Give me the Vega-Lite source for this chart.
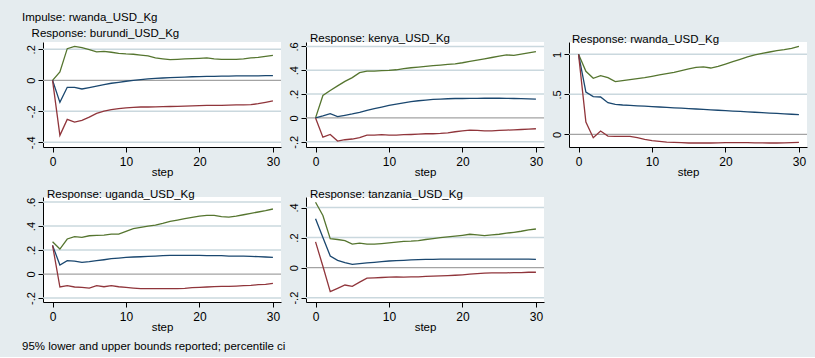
{
"$schema":"https://vega.github.io/schema/vega-lite/v6.json",
"background":"#e5ecef",
"padding":{"left":22,"top":12,"right":7,"bottom":5},
"title":{"text":"95% lower and upper bounds reported; percentile ci","orient":"bottom","anchor":"start","frame":"bounds","fontSize":11.5,"offset":8,"dx":0},
"datasets":{"g":[
{"p":"burundi","v":-0.4},{"p":"burundi","v":-0.2},{"p":"burundi","v":0},{"p":"burundi","v":0.2},
{"p":"kenya","v":-0.2},{"p":"kenya","v":0},{"p":"kenya","v":0.2},{"p":"kenya","v":0.4},{"p":"kenya","v":0.6},
{"p":"rwanda","v":0},{"p":"rwanda","v":0.5},{"p":"rwanda","v":1},
{"p":"uganda","v":-0.2},{"p":"uganda","v":0},{"p":"uganda","v":0.2},{"p":"uganda","v":0.4},{"p":"uganda","v":0.6},
{"p":"tanzania","v":-0.2},{"p":"tanzania","v":0},{"p":"tanzania","v":0.2},{"p":"tanzania","v":0.4}
],
"d":[
{"p":"burundi","s":0,"hi":0,"irf":0,"lo":0},
{"p":"burundi","s":1,"hi":0.054,"irf":-0.142,"lo":-0.355},
{"p":"burundi","s":2,"hi":0.204,"irf":-0.045,"lo":-0.252},
{"p":"burundi","s":3,"hi":0.219,"irf":-0.045,"lo":-0.269},
{"p":"burundi","s":4,"hi":0.211,"irf":-0.056,"lo":-0.258},
{"p":"burundi","s":5,"hi":0.198,"irf":-0.047,"lo":-0.237},
{"p":"burundi","s":6,"hi":0.183,"irf":-0.037,"lo":-0.213},
{"p":"burundi","s":7,"hi":0.187,"irf":-0.028,"lo":-0.198},
{"p":"burundi","s":8,"hi":0.181,"irf":-0.019,"lo":-0.189},
{"p":"burundi","s":9,"hi":0.174,"irf":-0.013,"lo":-0.183},
{"p":"burundi","s":10,"hi":0.170,"irf":-0.006,"lo":-0.178},
{"p":"burundi","s":11,"hi":0.168,"irf":0.000,"lo":-0.174},
{"p":"burundi","s":12,"hi":0.163,"irf":0.004,"lo":-0.172},
{"p":"burundi","s":13,"hi":0.157,"irf":0.009,"lo":-0.172},
{"p":"burundi","s":14,"hi":0.144,"irf":0.013,"lo":-0.171},
{"p":"burundi","s":15,"hi":0.138,"irf":0.015,"lo":-0.170},
{"p":"burundi","s":16,"hi":0.133,"irf":0.017,"lo":-0.169},
{"p":"burundi","s":17,"hi":0.135,"irf":0.019,"lo":-0.168},
{"p":"burundi","s":18,"hi":0.138,"irf":0.021,"lo":-0.166},
{"p":"burundi","s":19,"hi":0.140,"irf":0.023,"lo":-0.165},
{"p":"burundi","s":20,"hi":0.142,"irf":0.024,"lo":-0.163},
{"p":"burundi","s":21,"hi":0.144,"irf":0.025,"lo":-0.162},
{"p":"burundi","s":22,"hi":0.138,"irf":0.026,"lo":-0.162},
{"p":"burundi","s":23,"hi":0.135,"irf":0.027,"lo":-0.161},
{"p":"burundi","s":24,"hi":0.135,"irf":0.027,"lo":-0.160},
{"p":"burundi","s":25,"hi":0.135,"irf":0.028,"lo":-0.159},
{"p":"burundi","s":26,"hi":0.138,"irf":0.028,"lo":-0.158},
{"p":"burundi","s":27,"hi":0.144,"irf":0.029,"lo":-0.157},
{"p":"burundi","s":28,"hi":0.148,"irf":0.029,"lo":-0.151},
{"p":"burundi","s":29,"hi":0.155,"irf":0.030,"lo":-0.142},
{"p":"burundi","s":30,"hi":0.161,"irf":0.030,"lo":-0.133},
{"p":"kenya","s":0,"hi":0,"irf":0,"lo":0},
{"p":"kenya","s":1,"hi":0.188,"irf":0.017,"lo":-0.161},
{"p":"kenya","s":2,"hi":0.230,"irf":0.036,"lo":-0.139},
{"p":"kenya","s":3,"hi":0.269,"irf":0.011,"lo":-0.194},
{"p":"kenya","s":4,"hi":0.307,"irf":0.022,"lo":-0.183},
{"p":"kenya","s":5,"hi":0.338,"irf":0.033,"lo":-0.177},
{"p":"kenya","s":6,"hi":0.380,"irf":0.047,"lo":-0.166},
{"p":"kenya","s":7,"hi":0.393,"irf":0.064,"lo":-0.144},
{"p":"kenya","s":8,"hi":0.393,"irf":0.078,"lo":-0.144},
{"p":"kenya","s":9,"hi":0.396,"irf":0.091,"lo":-0.141},
{"p":"kenya","s":10,"hi":0.399,"irf":0.105,"lo":-0.144},
{"p":"kenya","s":11,"hi":0.404,"irf":0.116,"lo":-0.144},
{"p":"kenya","s":12,"hi":0.413,"irf":0.127,"lo":-0.141},
{"p":"kenya","s":13,"hi":0.421,"irf":0.136,"lo":-0.139},
{"p":"kenya","s":14,"hi":0.427,"irf":0.144,"lo":-0.136},
{"p":"kenya","s":15,"hi":0.432,"irf":0.150,"lo":-0.133},
{"p":"kenya","s":16,"hi":0.438,"irf":0.155,"lo":-0.133},
{"p":"kenya","s":17,"hi":0.443,"irf":0.158,"lo":-0.130},
{"p":"kenya","s":18,"hi":0.449,"irf":0.161,"lo":-0.125},
{"p":"kenya","s":19,"hi":0.454,"irf":0.163,"lo":-0.116},
{"p":"kenya","s":20,"hi":0.463,"irf":0.163,"lo":-0.108},
{"p":"kenya","s":21,"hi":0.474,"irf":0.164,"lo":-0.102},
{"p":"kenya","s":22,"hi":0.485,"irf":0.164,"lo":-0.105},
{"p":"kenya","s":23,"hi":0.496,"irf":0.165,"lo":-0.108},
{"p":"kenya","s":24,"hi":0.507,"irf":0.165,"lo":-0.108},
{"p":"kenya","s":25,"hi":0.518,"irf":0.165,"lo":-0.105},
{"p":"kenya","s":26,"hi":0.529,"irf":0.164,"lo":-0.102},
{"p":"kenya","s":27,"hi":0.524,"irf":0.163,"lo":-0.100},
{"p":"kenya","s":28,"hi":0.535,"irf":0.162,"lo":-0.097},
{"p":"kenya","s":29,"hi":0.546,"irf":0.160,"lo":-0.094},
{"p":"kenya","s":30,"hi":0.557,"irf":0.158,"lo":-0.091},
{"p":"rwanda","s":0,"hi":1.0,"irf":1.0,"lo":1.0},
{"p":"rwanda","s":1,"hi":0.788,"irf":0.529,"lo":0.154},
{"p":"rwanda","s":2,"hi":0.700,"irf":0.471,"lo":-0.042},
{"p":"rwanda","s":3,"hi":0.733,"irf":0.467,"lo":0.042},
{"p":"rwanda","s":4,"hi":0.708,"irf":0.396,"lo":-0.021},
{"p":"rwanda","s":5,"hi":0.658,"irf":0.375,"lo":-0.025},
{"p":"rwanda","s":6,"hi":0.671,"irf":0.367,"lo":-0.025},
{"p":"rwanda","s":7,"hi":0.683,"irf":0.362,"lo":-0.025},
{"p":"rwanda","s":8,"hi":0.696,"irf":0.357,"lo":-0.042},
{"p":"rwanda","s":9,"hi":0.708,"irf":0.352,"lo":-0.062},
{"p":"rwanda","s":10,"hi":0.725,"irf":0.347,"lo":-0.079},
{"p":"rwanda","s":11,"hi":0.742,"irf":0.342,"lo":-0.088},
{"p":"rwanda","s":12,"hi":0.758,"irf":0.337,"lo":-0.096},
{"p":"rwanda","s":13,"hi":0.775,"irf":0.332,"lo":-0.100},
{"p":"rwanda","s":14,"hi":0.796,"irf":0.327,"lo":-0.104},
{"p":"rwanda","s":15,"hi":0.817,"irf":0.322,"lo":-0.108},
{"p":"rwanda","s":16,"hi":0.838,"irf":0.317,"lo":-0.108},
{"p":"rwanda","s":17,"hi":0.842,"irf":0.312,"lo":-0.108},
{"p":"rwanda","s":18,"hi":0.829,"irf":0.307,"lo":-0.108},
{"p":"rwanda","s":19,"hi":0.850,"irf":0.301,"lo":-0.106},
{"p":"rwanda","s":20,"hi":0.879,"irf":0.296,"lo":-0.104},
{"p":"rwanda","s":21,"hi":0.908,"irf":0.291,"lo":-0.104},
{"p":"rwanda","s":22,"hi":0.938,"irf":0.286,"lo":-0.104},
{"p":"rwanda","s":23,"hi":0.967,"irf":0.281,"lo":-0.104},
{"p":"rwanda","s":24,"hi":0.992,"irf":0.276,"lo":-0.106},
{"p":"rwanda","s":25,"hi":1.013,"irf":0.271,"lo":-0.106},
{"p":"rwanda","s":26,"hi":1.029,"irf":0.266,"lo":-0.108},
{"p":"rwanda","s":27,"hi":1.046,"irf":0.261,"lo":-0.108},
{"p":"rwanda","s":28,"hi":1.058,"irf":0.256,"lo":-0.106},
{"p":"rwanda","s":29,"hi":1.075,"irf":0.251,"lo":-0.104},
{"p":"rwanda","s":30,"hi":1.100,"irf":0.246,"lo":-0.100},
{"p":"uganda","s":0,"hi":0.269,"irf":0.239,"lo":0.239},
{"p":"uganda","s":1,"hi":0.208,"irf":0.075,"lo":-0.108},
{"p":"uganda","s":2,"hi":0.292,"irf":0.111,"lo":-0.097},
{"p":"uganda","s":3,"hi":0.311,"irf":0.108,"lo":-0.108},
{"p":"uganda","s":4,"hi":0.306,"irf":0.097,"lo":-0.111},
{"p":"uganda","s":5,"hi":0.319,"irf":0.103,"lo":-0.117},
{"p":"uganda","s":6,"hi":0.322,"irf":0.111,"lo":-0.097},
{"p":"uganda","s":7,"hi":0.325,"irf":0.119,"lo":-0.106},
{"p":"uganda","s":8,"hi":0.333,"irf":0.128,"lo":-0.097},
{"p":"uganda","s":9,"hi":0.333,"irf":0.133,"lo":-0.106},
{"p":"uganda","s":10,"hi":0.356,"irf":0.139,"lo":-0.111},
{"p":"uganda","s":11,"hi":0.378,"irf":0.142,"lo":-0.117},
{"p":"uganda","s":12,"hi":0.389,"irf":0.144,"lo":-0.122},
{"p":"uganda","s":13,"hi":0.400,"irf":0.147,"lo":-0.122},
{"p":"uganda","s":14,"hi":0.408,"irf":0.150,"lo":-0.122},
{"p":"uganda","s":15,"hi":0.422,"irf":0.153,"lo":-0.122},
{"p":"uganda","s":16,"hi":0.439,"irf":0.156,"lo":-0.122},
{"p":"uganda","s":17,"hi":0.450,"irf":0.156,"lo":-0.122},
{"p":"uganda","s":18,"hi":0.461,"irf":0.156,"lo":-0.119},
{"p":"uganda","s":19,"hi":0.472,"irf":0.156,"lo":-0.114},
{"p":"uganda","s":20,"hi":0.483,"irf":0.156,"lo":-0.111},
{"p":"uganda","s":21,"hi":0.489,"irf":0.153,"lo":-0.108},
{"p":"uganda","s":22,"hi":0.489,"irf":0.153,"lo":-0.105},
{"p":"uganda","s":23,"hi":0.478,"irf":0.153,"lo":-0.103},
{"p":"uganda","s":24,"hi":0.475,"irf":0.150,"lo":-0.103},
{"p":"uganda","s":25,"hi":0.483,"irf":0.150,"lo":-0.100},
{"p":"uganda","s":26,"hi":0.494,"irf":0.149,"lo":-0.097},
{"p":"uganda","s":27,"hi":0.506,"irf":0.147,"lo":-0.094},
{"p":"uganda","s":28,"hi":0.517,"irf":0.145,"lo":-0.089},
{"p":"uganda","s":29,"hi":0.528,"irf":0.142,"lo":-0.086},
{"p":"uganda","s":30,"hi":0.542,"irf":0.139,"lo":-0.078},
{"p":"tanzania","s":0,"hi":0.435,"irf":0.325,"lo":0.171},
{"p":"tanzania","s":1,"hi":0.347,"irf":0.200,"lo":0.009},
{"p":"tanzania","s":2,"hi":0.193,"irf":0.077,"lo":-0.160},
{"p":"tanzania","s":3,"hi":0.187,"irf":0.048,"lo":-0.138},
{"p":"tanzania","s":4,"hi":0.180,"irf":0.033,"lo":-0.116},
{"p":"tanzania","s":5,"hi":0.156,"irf":0.022,"lo":-0.125},
{"p":"tanzania","s":6,"hi":0.163,"irf":0.026,"lo":-0.097},
{"p":"tanzania","s":7,"hi":0.156,"irf":0.031,"lo":-0.070},
{"p":"tanzania","s":8,"hi":0.156,"irf":0.035,"lo":-0.068},
{"p":"tanzania","s":9,"hi":0.160,"irf":0.040,"lo":-0.066},
{"p":"tanzania","s":10,"hi":0.165,"irf":0.044,"lo":-0.064},
{"p":"tanzania","s":11,"hi":0.169,"irf":0.046,"lo":-0.062},
{"p":"tanzania","s":12,"hi":0.174,"irf":0.048,"lo":-0.064},
{"p":"tanzania","s":13,"hi":0.176,"irf":0.051,"lo":-0.062},
{"p":"tanzania","s":14,"hi":0.180,"irf":0.053,"lo":-0.062},
{"p":"tanzania","s":15,"hi":0.187,"irf":0.055,"lo":-0.059},
{"p":"tanzania","s":16,"hi":0.193,"irf":0.055,"lo":-0.057},
{"p":"tanzania","s":17,"hi":0.200,"irf":0.057,"lo":-0.055},
{"p":"tanzania","s":18,"hi":0.204,"irf":0.057,"lo":-0.053},
{"p":"tanzania","s":19,"hi":0.209,"irf":0.057,"lo":-0.051},
{"p":"tanzania","s":20,"hi":0.215,"irf":0.057,"lo":-0.048},
{"p":"tanzania","s":21,"hi":0.222,"irf":0.057,"lo":-0.044},
{"p":"tanzania","s":22,"hi":0.218,"irf":0.057,"lo":-0.040},
{"p":"tanzania","s":23,"hi":0.213,"irf":0.057,"lo":-0.037},
{"p":"tanzania","s":24,"hi":0.218,"irf":0.057,"lo":-0.035},
{"p":"tanzania","s":25,"hi":0.222,"irf":0.057,"lo":-0.035},
{"p":"tanzania","s":26,"hi":0.229,"irf":0.057,"lo":-0.035},
{"p":"tanzania","s":27,"hi":0.235,"irf":0.057,"lo":-0.033},
{"p":"tanzania","s":28,"hi":0.242,"irf":0.057,"lo":-0.033},
{"p":"tanzania","s":29,"hi":0.251,"irf":0.056,"lo":-0.031},
{"p":"tanzania","s":30,"hi":0.257,"irf":0.055,"lo":-0.031}
]},
"columns":3,
"bounds":"flush",
"spacing":{"row":50,"column":25},
"concat":[
{"width":238,"height":105,
 "title":{"text":"Impulse: rwanda_USD_Kg","subtitle":"\u200b\u00a0\u00a0\u00a0Response: burundi_USD_Kg","dx":-21,"offset":3,"subtitleFontSize":11.5,"subtitleColor":"#000","subtitlePadding":4},
 "layer":[
  {"data":{"name":"g"},"transform":[{"filter":"datum.p==='burundi' && datum.v!==0"}],"mark":{"type":"rule","color":"#cad8de","strokeWidth":1.5},
   "encoding":{"y":{"field":"v","type":"quantitative","scale":{"domain":[-0.43,0.247],"nice":false,"zero":false},"axis":{"values":[-0.4,-0.2,0,0.2],"title":null,"grid":false,"labelOverlap":false}}}},
  {"data":{"name":"g"},"transform":[{"filter":"datum.p==='burundi' && datum.v===0"}],"mark":{"type":"rule","color":"#a3a3a3","strokeWidth":1.2},
   "encoding":{"y":{"field":"v","type":"quantitative","axis":{"values":[-0.4,-0.2,0,0.2],"title":null,"grid":false,"labelOverlap":false}}}},
  {"data":{"name":"d"},"transform":[{"filter":"datum.p==='burundi'"},{"fold":["hi","irf","lo"],"as":["series","v"]}],"mark":{"type":"line","strokeWidth":1.3},"encoding":{
   "x":{"field":"s","type":"quantitative","scale":{"domain":[-1.3,31.1],"nice":false,"zero":false},"axis":{"values":[0,10,20,30],"title":"step","grid":false}},
   "y":{"field":"v","type":"quantitative","axis":{"values":[-0.4,-0.2,0,0.2],"title":null,"grid":false,"labelOverlap":false}},
   "color":{"field":"series","type":"nominal","scale":{"domain":["hi","irf","lo"],"range":["#55752f","#1a476f","#90353b"]},"legend":null}}}
 ]},
{"width":238,"height":105,
 "title":{"text":"Response: kenya_USD_Kg","dx":4,"offset":-3},
 "layer":[
  {"data":{"name":"g"},"transform":[{"filter":"datum.p==='kenya' && datum.v!==0"}],"mark":{"type":"rule","color":"#cad8de","strokeWidth":1.5},
   "encoding":{"y":{"field":"v","type":"quantitative","scale":{"domain":[-0.244,0.637],"nice":false,"zero":false},"axis":{"values":[-0.2,0,0.2,0.4,0.6],"title":null,"grid":false,"labelOverlap":false}}}},
  {"data":{"name":"g"},"transform":[{"filter":"datum.p==='kenya' && datum.v===0"}],"mark":{"type":"rule","color":"#a3a3a3","strokeWidth":1.2},
   "encoding":{"y":{"field":"v","type":"quantitative","axis":{"values":[-0.2,0,0.2,0.4,0.6],"title":null,"grid":false,"labelOverlap":false}}}},
  {"data":{"name":"d"},"transform":[{"filter":"datum.p==='kenya'"},{"fold":["hi","irf","lo"],"as":["series","v"]}],"mark":{"type":"line","strokeWidth":1.3},"encoding":{
   "x":{"field":"s","type":"quantitative","scale":{"domain":[-1.3,31.1],"nice":false,"zero":false},"axis":{"values":[0,10,20,30],"title":"step","grid":false}},
   "y":{"field":"v","type":"quantitative","axis":{"values":[-0.2,0,0.2,0.4,0.6],"title":null,"grid":false,"labelOverlap":false}},
   "color":{"field":"series","type":"nominal","scale":{"domain":["hi","irf","lo"],"range":["#55752f","#1a476f","#90353b"]},"legend":null}}}
 ]},
{"width":238,"height":105,
 "title":{"text":"Response: rwanda_USD_Kg","dx":3,"offset":-3},
 "layer":[
  {"data":{"name":"g"},"transform":[{"filter":"datum.p==='rwanda' && datum.v!==0"}],"mark":{"type":"rule","color":"#cad8de","strokeWidth":1.5},
   "encoding":{"y":{"field":"v","type":"quantitative","scale":{"domain":[-0.158,1.154],"nice":false,"zero":false},"axis":{"values":[0,0.5,1],"title":null,"grid":false,"labelOverlap":false}}}},
  {"data":{"name":"g"},"transform":[{"filter":"datum.p==='rwanda' && datum.v===0"}],"mark":{"type":"rule","color":"#a3a3a3","strokeWidth":1.2},
   "encoding":{"y":{"field":"v","type":"quantitative","axis":{"values":[0,0.5,1],"title":null,"grid":false,"labelOverlap":false}}}},
  {"data":{"name":"d"},"transform":[{"filter":"datum.p==='rwanda'"},{"fold":["hi","irf","lo"],"as":["series","v"]}],"mark":{"type":"line","strokeWidth":1.3},"encoding":{
   "x":{"field":"s","type":"quantitative","scale":{"domain":[-1.3,31.1],"nice":false,"zero":false},"axis":{"values":[0,10,20,30],"title":"step","grid":false}},
   "y":{"field":"v","type":"quantitative","axis":{"values":[0,0.5,1],"title":null,"grid":false,"labelOverlap":false}},
   "color":{"field":"series","type":"nominal","scale":{"domain":["hi","irf","lo"],"range":["#55752f","#1a476f","#90353b"]},"legend":null}}}
 ]},
{"width":238,"height":105,
 "title":{"text":"Response: uganda_USD_Kg","dx":4,"offset":-3},
 "layer":[
  {"data":{"name":"g"},"transform":[{"filter":"datum.p==='uganda' && datum.v!==0"}],"mark":{"type":"rule","color":"#cad8de","strokeWidth":1.5},
   "encoding":{"y":{"field":"v","type":"quantitative","scale":{"domain":[-0.233,0.642],"nice":false,"zero":false},"axis":{"values":[-0.2,0,0.2,0.4,0.6],"title":null,"grid":false,"labelOverlap":false}}}},
  {"data":{"name":"g"},"transform":[{"filter":"datum.p==='uganda' && datum.v===0"}],"mark":{"type":"rule","color":"#a3a3a3","strokeWidth":1.2},
   "encoding":{"y":{"field":"v","type":"quantitative","axis":{"values":[-0.2,0,0.2,0.4,0.6],"title":null,"grid":false,"labelOverlap":false}}}},
  {"data":{"name":"d"},"transform":[{"filter":"datum.p==='uganda'"},{"fold":["hi","irf","lo"],"as":["series","v"]}],"mark":{"type":"line","strokeWidth":1.3},"encoding":{
   "x":{"field":"s","type":"quantitative","scale":{"domain":[-1.3,31.1],"nice":false,"zero":false},"axis":{"values":[0,10,20,30],"title":"step","grid":false}},
   "y":{"field":"v","type":"quantitative","axis":{"values":[-0.2,0,0.2,0.4,0.6],"title":null,"grid":false,"labelOverlap":false}},
   "color":{"field":"series","type":"nominal","scale":{"domain":["hi","irf","lo"],"range":["#55752f","#1a476f","#90353b"]},"legend":null}}}
 ]},
{"width":238,"height":105,
 "title":{"text":"Response: tanzania_USD_Kg","dx":4,"offset":-3},
 "layer":[
  {"data":{"name":"g"},"transform":[{"filter":"datum.p==='tanzania' && datum.v!==0"}],"mark":{"type":"rule","color":"#cad8de","strokeWidth":1.5},
   "encoding":{"y":{"field":"v","type":"quantitative","scale":{"domain":[-0.229,0.47],"nice":false,"zero":false},"axis":{"values":[-0.2,0,0.2,0.4],"title":null,"grid":false,"labelOverlap":false}}}},
  {"data":{"name":"g"},"transform":[{"filter":"datum.p==='tanzania' && datum.v===0"}],"mark":{"type":"rule","color":"#a3a3a3","strokeWidth":1.2},
   "encoding":{"y":{"field":"v","type":"quantitative","axis":{"values":[-0.2,0,0.2,0.4],"title":null,"grid":false,"labelOverlap":false}}}},
  {"data":{"name":"d"},"transform":[{"filter":"datum.p==='tanzania'"},{"fold":["hi","irf","lo"],"as":["series","v"]}],"mark":{"type":"line","strokeWidth":1.3},"encoding":{
   "x":{"field":"s","type":"quantitative","scale":{"domain":[-1.3,31.1],"nice":false,"zero":false},"axis":{"values":[0,10,20,30],"title":"step","grid":false}},
   "y":{"field":"v","type":"quantitative","axis":{"values":[-0.2,0,0.2,0.4],"title":null,"grid":false,"labelOverlap":false}},
   "color":{"field":"series","type":"nominal","scale":{"domain":["hi","irf","lo"],"range":["#55752f","#1a476f","#90353b"]},"legend":null}}}
 ]}
],
"config":{
 "font":"Liberation Sans",
 "view":{"fill":"white","stroke":null},
 "axis":{"grid":false,"domainColor":"#000","domainWidth":1,"tickColor":"#000","tickSize":5,"labelColor":"#000","labelFontSize":11,"labelPadding":2,"labelOverlap":false,"titleFontSize":11.5,"titleFontWeight":"normal","titleColor":"#000","titlePadding":1},
 "axisX":{"labelFontSize":12,"labelPadding":4,"titlePadding":-1},
 "axisY":{"labelAngle":-90,"labelAlign":"center","labelBaseline":"bottom","labelOverlap":false,"labelExpr":"replace(replace(format(datum.value,'~g'),'0.','.'),'\u2212','-')"},
 "title":{"fontSize":11.5,"fontWeight":"normal","anchor":"start","frame":"group","color":"#000"}
}
}
